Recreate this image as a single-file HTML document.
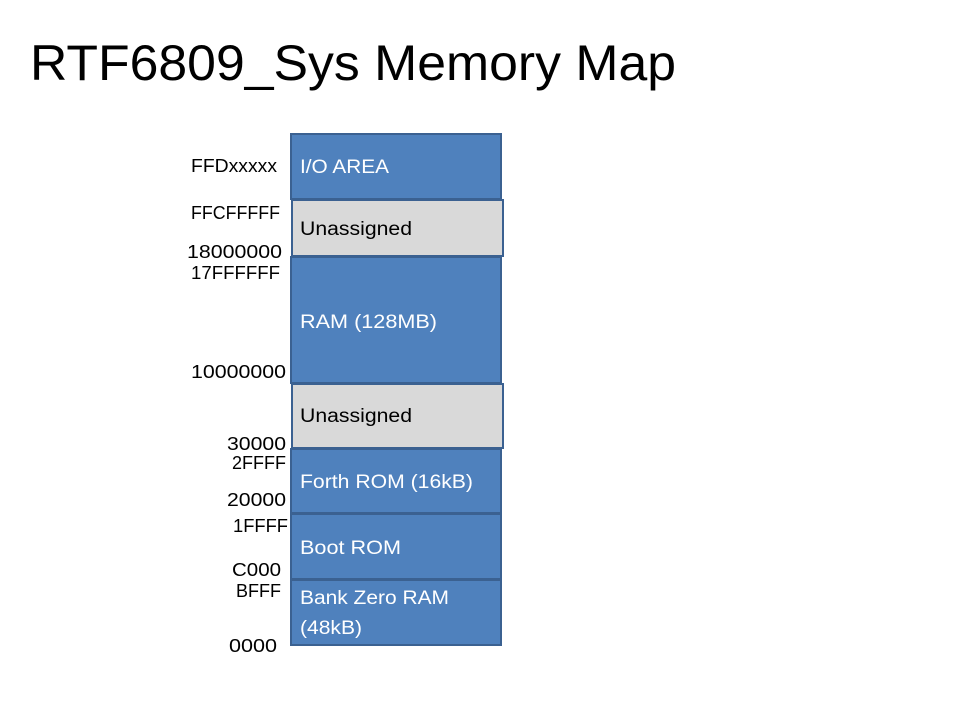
<!DOCTYPE html>
<html><head><meta charset="utf-8"><style>
html,body{margin:0;padding:0;background:#fff;}
svg{display:block;}
text{font-family:"Liberation Sans",sans-serif;}
</style></head><body>
<svg width="960" height="720" viewBox="0 0 960 720" xmlns="http://www.w3.org/2000/svg">
<rect width="960" height="720" fill="#fff"/>
<text x="30" y="80" font-size="50" textLength="646" lengthAdjust="spacingAndGlyphs" fill="#000">RTF6809_Sys Memory Map</text>
<g stroke="#3b6191" stroke-width="2">
<rect x="291" y="134" width="210" height="65" fill="#4f81bd"/>
<rect x="292" y="200" width="211" height="56" fill="#d9d9d9"/>
<rect x="291" y="257" width="210" height="126" fill="#4f81bd"/>
<rect x="292" y="384" width="211" height="64" fill="#d9d9d9"/>
<rect x="291" y="449" width="210" height="64" fill="#4f81bd"/>
<rect x="291" y="514" width="210" height="65" fill="#4f81bd"/>
<rect x="291" y="580" width="210" height="65" fill="#4f81bd"/>
</g>
<g font-size="19" fill="#fff">
<text x="300" y="173" textLength="89" lengthAdjust="spacingAndGlyphs">I/O AREA</text>
<text x="300" y="328" textLength="137" lengthAdjust="spacingAndGlyphs">RAM (128MB)</text>
<text x="300" y="488" textLength="173" lengthAdjust="spacingAndGlyphs">Forth ROM (16kB)</text>
<text x="300" y="554" textLength="101" lengthAdjust="spacingAndGlyphs">Boot ROM</text>
<text x="300" y="604" textLength="149" lengthAdjust="spacingAndGlyphs">Bank Zero RAM</text>
<text x="300" y="634" textLength="62" lengthAdjust="spacingAndGlyphs">(48kB)</text>
</g>
<g font-size="19" fill="#000">
<text x="300" y="235" textLength="112" lengthAdjust="spacingAndGlyphs">Unassigned</text>
<text x="300" y="422" textLength="112" lengthAdjust="spacingAndGlyphs">Unassigned</text>
</g>
<g font-size="18" fill="#000" lengthAdjust="spacingAndGlyphs">
<text x="191" y="172" textLength="86" lengthAdjust="spacingAndGlyphs">FFDxxxxx</text>
<text x="191" y="219" textLength="89" lengthAdjust="spacingAndGlyphs">FFCFFFFF</text>
<text x="187" y="258" textLength="95" lengthAdjust="spacingAndGlyphs">18000000</text>
<text x="191" y="279" textLength="89" lengthAdjust="spacingAndGlyphs">17FFFFFF</text>
<text x="191" y="378" textLength="95" lengthAdjust="spacingAndGlyphs">10000000</text>
<text x="227" y="450" textLength="59" lengthAdjust="spacingAndGlyphs">30000</text>
<text x="232" y="469" textLength="54" lengthAdjust="spacingAndGlyphs">2FFFF</text>
<text x="227" y="506" textLength="59" lengthAdjust="spacingAndGlyphs">20000</text>
<text x="233" y="532" textLength="55" lengthAdjust="spacingAndGlyphs">1FFFF</text>
<text x="232" y="576" textLength="49" lengthAdjust="spacingAndGlyphs">C000</text>
<text x="236" y="597" textLength="45" lengthAdjust="spacingAndGlyphs">BFFF</text>
<text x="229" y="652" textLength="48" lengthAdjust="spacingAndGlyphs">0000</text>
</g>
</svg>
</body></html>
